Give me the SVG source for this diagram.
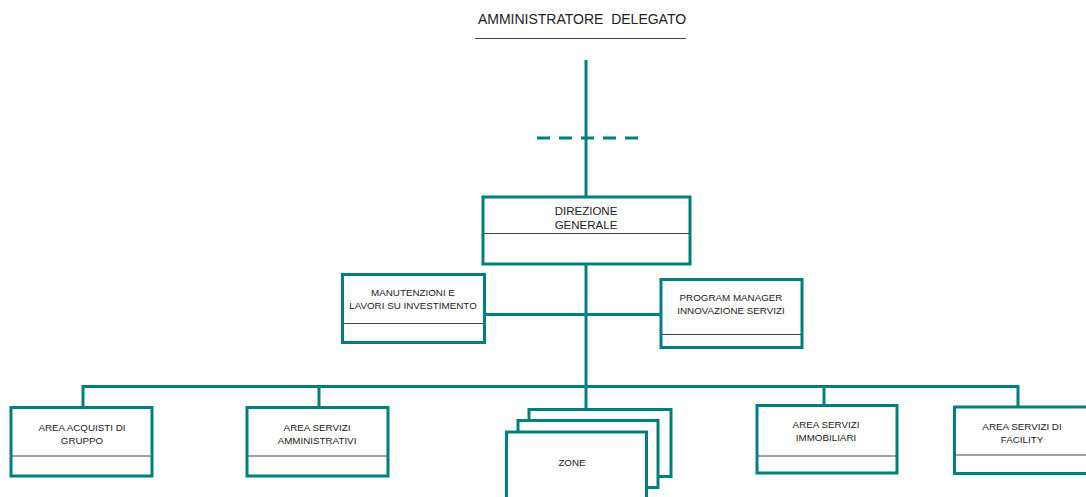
<svg xmlns="http://www.w3.org/2000/svg" width="1086" height="497" viewBox="0 0 1086 497">
<style>
.box{fill:#fff;stroke:#00807c;stroke-width:3}
.div{stroke:#444;stroke-width:1}
.con{stroke:#00807c;stroke-width:3;fill:none}
.t{font-family:"Liberation Sans",Arial,sans-serif;font-size:9.8px;fill:#222;text-anchor:middle}
.tl{font-family:"Liberation Sans",Arial,sans-serif;font-size:11.5px;fill:#222;text-anchor:middle}
</style>
<rect width="1086" height="497" fill="#fff"/>
<g id="ad">
<text x="582" y="24" font-family="Liberation Sans,Arial,sans-serif" font-size="14" fill="#222" text-anchor="middle" xml:space="preserve">AMMINISTRATORE  DELEGATO</text>
<line x1="475" y1="38.5" x2="686" y2="38.5" stroke="#444" stroke-width="1.2"/>
</g>
<g id="connectors">
<line class="con" x1="586" y1="60" x2="586" y2="197"/>
<line class="con" x1="537" y1="138" x2="640" y2="138" stroke-dasharray="13 9"/>
<line class="con" x1="586" y1="264" x2="586" y2="408"/>
<line class="con" x1="484" y1="314.5" x2="661" y2="314.5"/>
<polyline class="con" points="83,407 83,386.5 1018,386.5 1018,407"/>
<line class="con" x1="319" y1="386" x2="319" y2="407"/>
<line class="con" x1="824" y1="386" x2="824" y2="405"/>
</g>
<g id="dg">
<rect class="box" x="483" y="197" width="207" height="67"/>
<line class="div" x1="484" y1="233.5" x2="689" y2="233.5"/>
<text class="tl" x="586" y="215">DIREZIONE</text>
<text class="tl" x="586" y="229">GENERALE</text>
</g>
<g id="manutenzioni">
<rect class="box" x="342.5" y="274.5" width="142" height="68"/>
<line class="div" x1="344" y1="323.5" x2="483" y2="323.5"/>
<text class="t" x="413" y="296">MANUTENZIONI E</text>
<text class="t" x="413" y="308.5">LAVORI SU INVESTIMENTO</text>
</g>
<g id="program">
<rect class="box" x="661" y="279.5" width="141" height="68"/>
<line class="div" x1="662" y1="334.5" x2="801" y2="334.5"/>
<text class="t" x="731" y="301">PROGRAM MANAGER</text>
<text class="t" x="731" y="313.5">INNOVAZIONE SERVIZI</text>
</g>
<g id="acquisti">
<rect class="box" x="11" y="407.5" width="141" height="68.5"/>
<line class="div" x1="12" y1="456" x2="151" y2="456"/>
<text class="t" x="82" y="431">AREA ACQUISTI DI</text>
<text class="t" x="82" y="443.5">GRUPPO</text>
</g>
<g id="amministrativi">
<rect class="box" x="247" y="407.5" width="141" height="68.5"/>
<line class="div" x1="248" y1="456" x2="387" y2="456"/>
<text class="t" x="317" y="431">AREA SERVIZI</text>
<text class="t" x="317" y="443.5">AMMINISTRATIVI</text>
</g>
<g id="zone">
<rect class="box" x="529" y="409.5" width="142" height="67"/>
<rect class="box" x="518" y="420.5" width="140" height="67"/>
<rect class="box" x="506.5" y="432" width="140" height="67"/>
<text class="t" x="572" y="466">ZONE</text>
</g>
<g id="immobiliari">
<rect class="box" x="757" y="405.5" width="140" height="67.5"/>
<line class="div" x1="758" y1="456" x2="896" y2="456"/>
<text class="t" x="826" y="428">AREA SERVIZI</text>
<text class="t" x="826" y="441">IMMOBILIARI</text>
</g>
<g id="facility">
<rect class="box" x="954.5" y="407" width="140" height="66.5"/>
<line class="div" x1="956" y1="455" x2="1086" y2="455"/>
<text class="t" x="1022" y="430">AREA SERVIZI DI</text>
<text class="t" x="1022" y="443">FACILITY</text>
</g>
</svg>
